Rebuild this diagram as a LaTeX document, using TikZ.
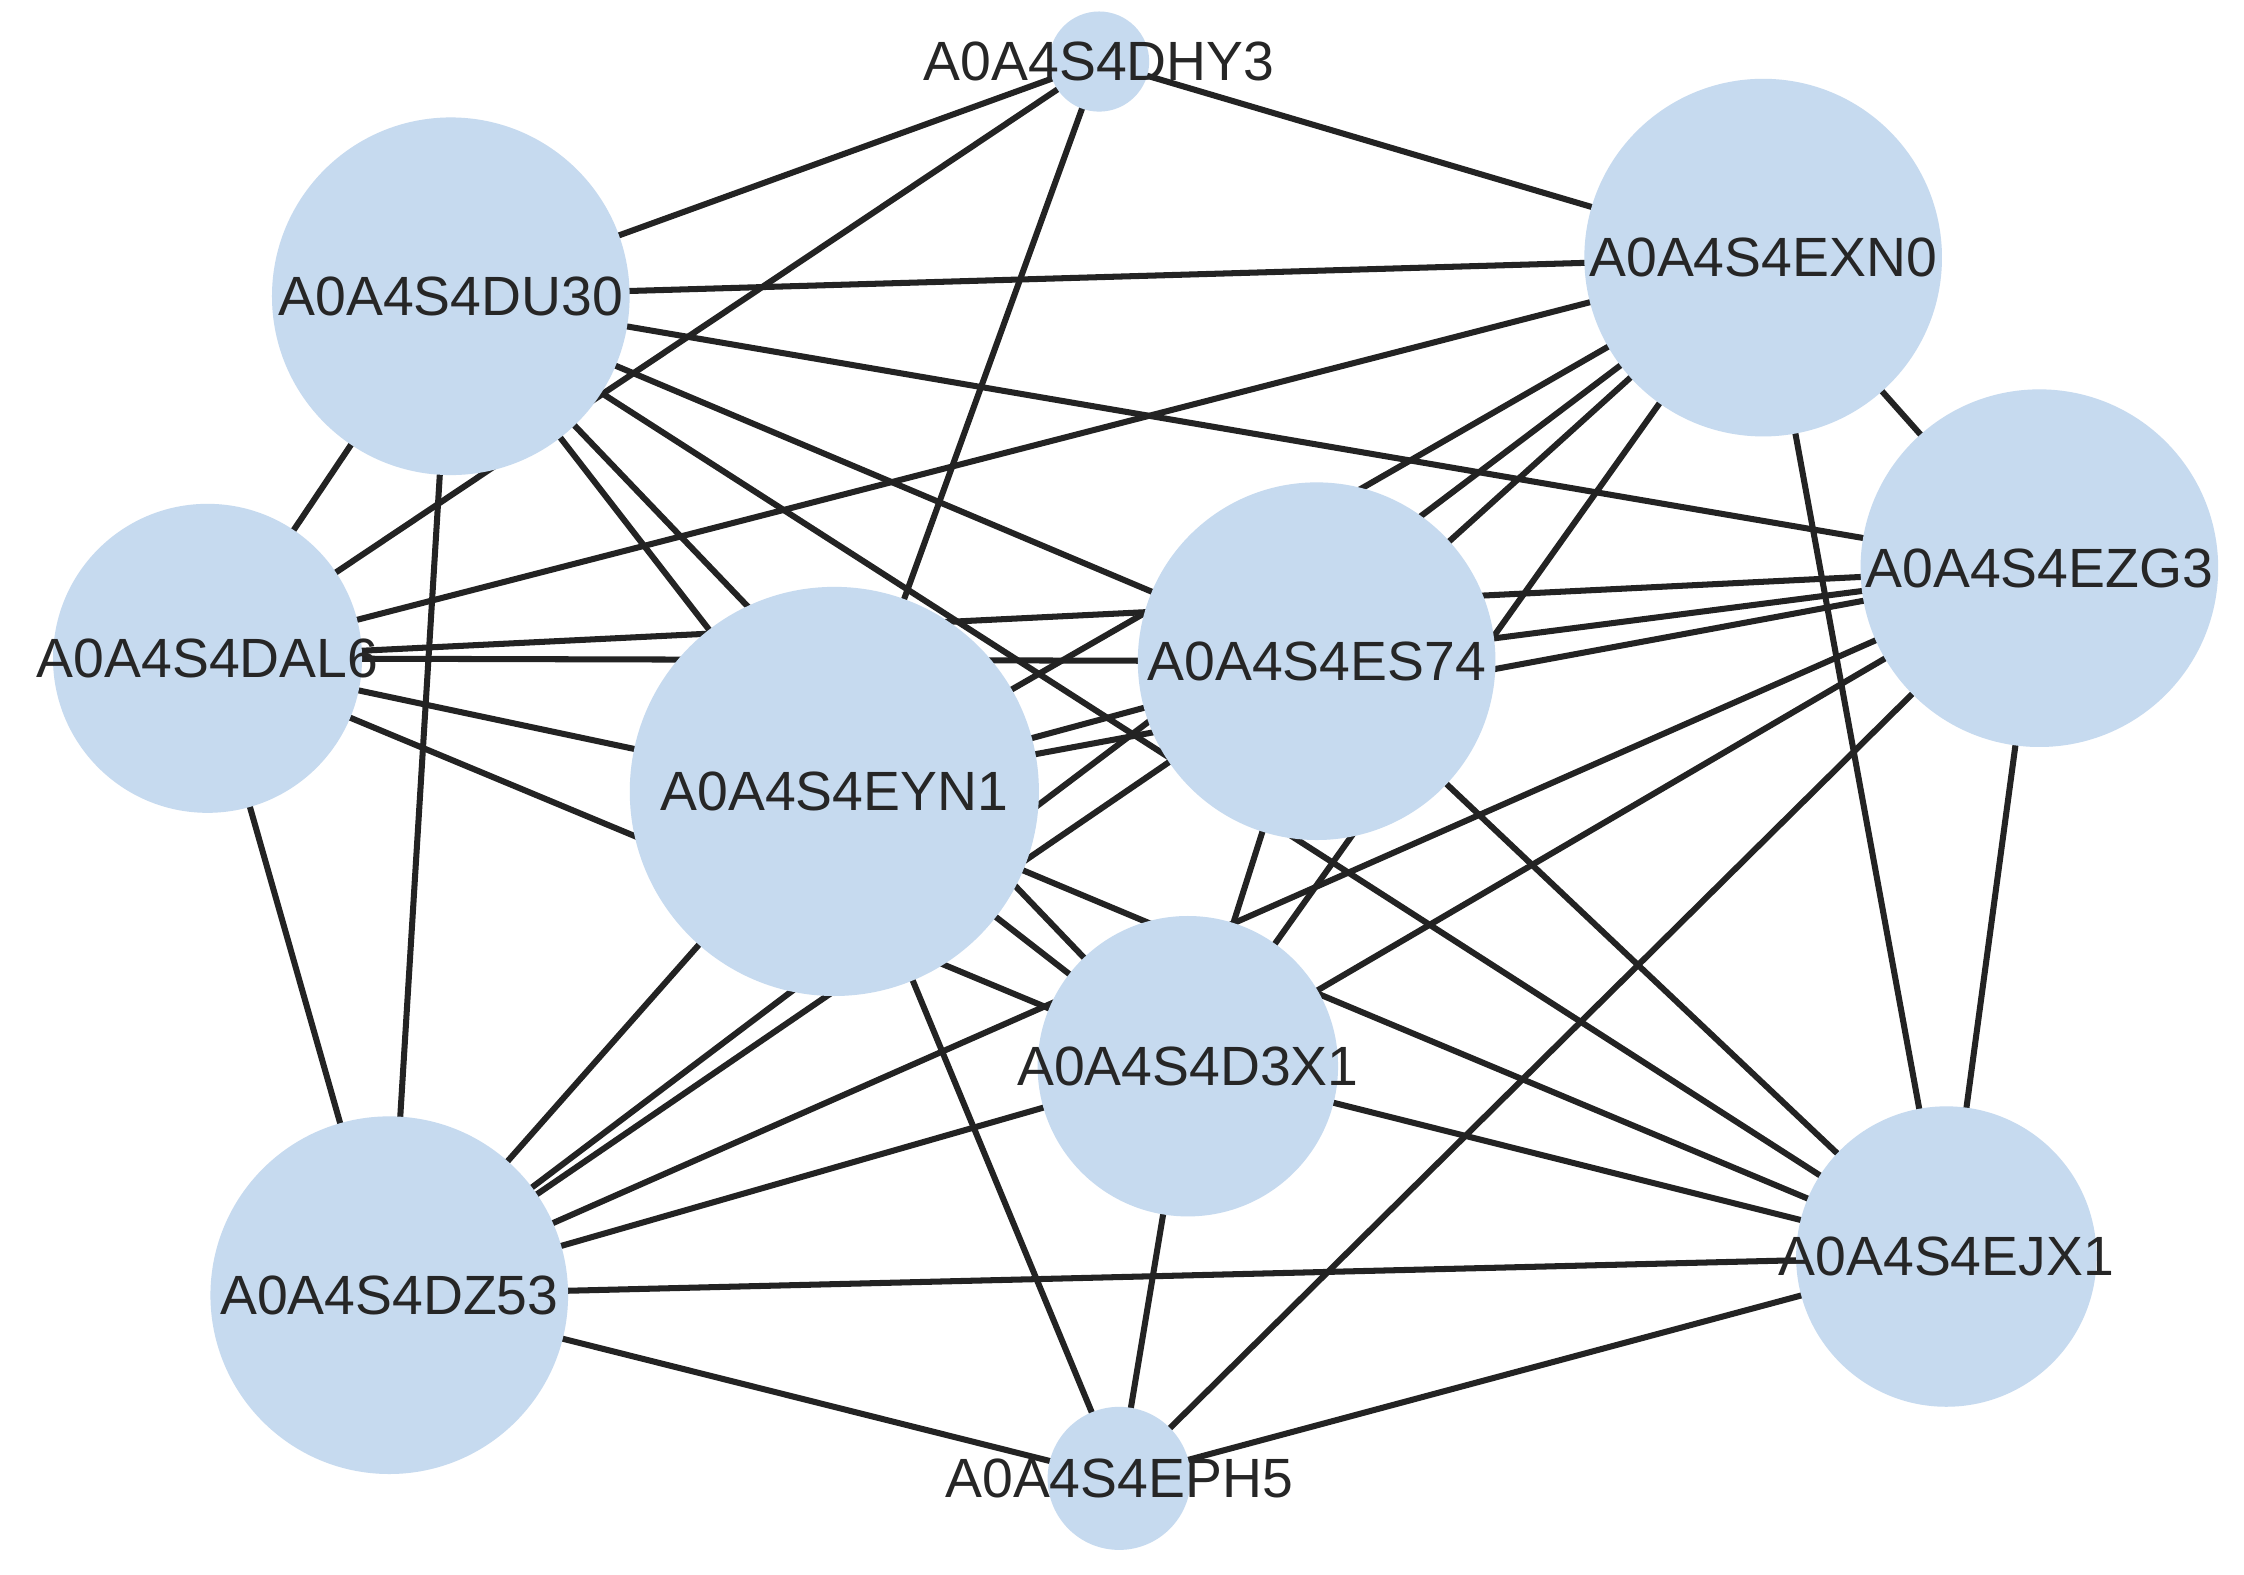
\documentclass[tikz,border=0pt]{standalone}
\usepackage{fontspec}
\setmainfont{Liberation Sans}
\definecolor{nodefill}{RGB}{198,218,239}
\definecolor{edgec}{RGB}{35,35,35}
\begin{document}
\begin{tikzpicture}[x=0.02cm,y=-0.02cm,
  n/.style={circle,fill=nodefill,draw=none,inner sep=0pt,minimum size=#1*0.04cm},
  t/.style={font=\fontsize{22}{24}\selectfont,text=black!85,inner sep=0pt},
  e/.style={draw=edgec,line width=2.4pt}]
\useasboundingbox (0,0) rectangle (1568,1100);
\fill[white] (0,0) rectangle (1568,1100);
\coordinate (DHY3c) at (768,43);
\coordinate (DU30c) at (315,207);
\coordinate (EXN0c) at (1232,180);
\coordinate (EZG3c) at (1425,397);
\coordinate (DAL6c) at (145,460);
\coordinate (ES74c) at (920,462);
\coordinate (EYN1c) at (583,553);
\coordinate (D3X1c) at (830,745);
\coordinate (DZ53c) at (272,905);
\coordinate (EJX1c) at (1360,878);
\coordinate (EPH5c) at (782,1033);
\foreach \a/\b in {DHY3/DU30,DHY3/EXN0,DHY3/EYN1,DHY3/DAL6,
 DU30/EXN0,DU30/EZG3,DU30/DAL6,DU30/DZ53,DU30/EYN1,DU30/ES74,DU30/D3X1,DU30/EJX1,
 EXN0/DAL6,EXN0/ES74,EXN0/EYN1,EXN0/D3X1,EXN0/DZ53,EXN0/EZG3,EXN0/EJX1,
 EZG3/DAL6,EZG3/ES74,EZG3/EYN1,EZG3/D3X1,EZG3/DZ53,EZG3/EJX1,EZG3/EPH5,
 DAL6/ES74,DAL6/EYN1,DAL6/D3X1,DAL6/DZ53,
 ES74/EYN1,ES74/D3X1,ES74/DZ53,ES74/EJX1,
 EYN1/D3X1,EYN1/DZ53,EYN1/EJX1,EYN1/EPH5,
 D3X1/DZ53,D3X1/EJX1,D3X1/EPH5,
 DZ53/EJX1,DZ53/EPH5,EJX1/EPH5}
 \draw[e] (\a c) -- (\b c);
\node[n=35] (DHY3) at (DHY3c) {};
\node[n=125] (DU30) at (DU30c) {};
\node[n=125] (EXN0) at (EXN0c) {};
\node[n=125] (EZG3) at (EZG3c) {};
\node[n=108] (DAL6) at (DAL6c) {};
\node[n=125] (ES74) at (ES74c) {};
\node[n=143] (EYN1) at (EYN1c) {};
\node[n=105] (D3X1) at (D3X1c) {};
\node[n=125] (DZ53) at (DZ53c) {};
\node[n=105] (EJX1) at (EJX1c) {};
\node[n=50] (EPH5) at (EPH5c) {};
\node[t] (DHY3t) at (DHY3c) {A0A4S4DHY3};
\node[t] (DU30t) at (DU30c) {A0A4S4DU30};
\node[t] (EXN0t) at (EXN0c) {A0A4S4EXN0};
\node[t] (EZG3t) at (EZG3c) {A0A4S4EZG3};
\node[t] (DAL6t) at (DAL6c) {A0A4S4DAL6};
\node[t] (ES74t) at (ES74c) {A0A4S4ES74};
\node[t] (EYN1t) at (EYN1c) {A0A4S4EYN1};
\node[t] (D3X1t) at (D3X1c) {A0A4S4D3X1};
\node[t] (DZ53t) at (DZ53c) {A0A4S4DZ53};
\node[t] (EJX1t) at (EJX1c) {A0A4S4EJX1};
\node[t] (EPH5t) at (EPH5c) {A0A4S4EPH5};
\end{tikzpicture}
\end{document}
